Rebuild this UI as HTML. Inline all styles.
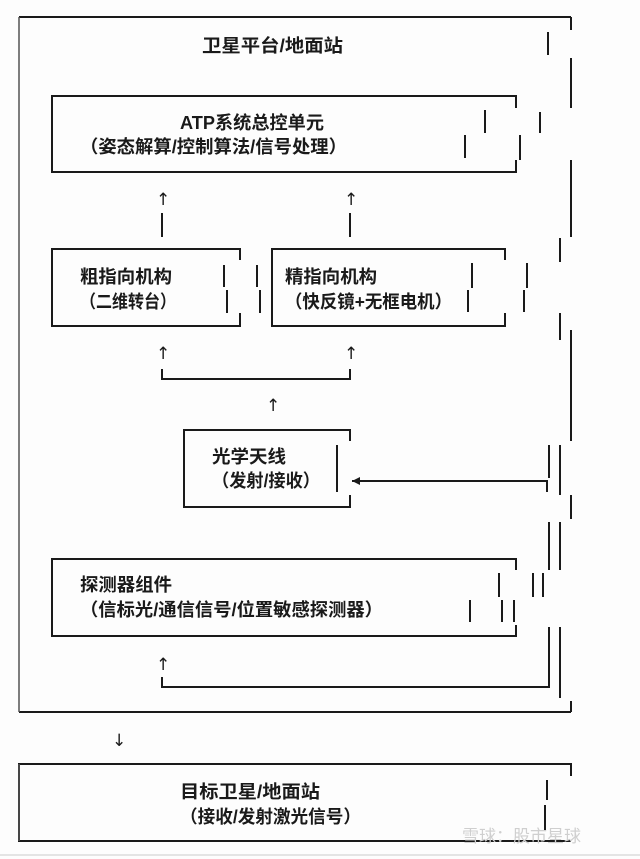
<!DOCTYPE html>
<html><head><meta charset="utf-8"><style>
html,body{margin:0;padding:0;background:#fdfdfd;}
svg{display:block}
text{font-family:"Liberation Sans","Noto Sans CJK SC",sans-serif;font-size:18px;fill:#1a1a1a;font-weight:bold;}
.ar{font-family:"DejaVu Sans",sans-serif;font-size:17px;font-weight:normal;}
</style></head><body>
<svg width="640" height="859" viewBox="0 0 640 859" xmlns="http://www.w3.org/2000/svg">
<g stroke="#1a1a1a" stroke-width="2" fill="none">
<path d="M19 17 H571 M19 712 H571"/>
<path d="M19 17V712" stroke="#555" stroke-width="1.5"/>
<path d="M571 17V30 M571 58V108 M571 160V237 M571 330V441 M571 495V519 M571 701V712"/>
<path d="M548 32V55"/>
<path d="M516 108V96H52V172H516V160"/>
<path d="M520 135V160 M540 112V133 M485 110V133 M465 135V158"/>
<path d="M162 213V237 M350 213V237"/>
<path d="M240 260V249H52V326H240V313"/>
<path d="M224 265V287 M227 290V313 M257 265V287 M260 290V313"/>
<path d="M505 260V249H272V326H505V313"/>
<path d="M472 263V288 M468 290V312 M527 263V288 M524 290V312"/>
<path d="M560 238V262 M560 313V340 M560 445V495 M560 522V570 M560 627V698"/>
<path d="M162 369V379H350V369"/>
<path d="M350 441V430H184V507H350V495"/>
<path d="M337 445V492"/>
<path d="M547 492V481H352"/>
<path d="M549 445V478 M549 522V570 M549 627V687H162V677"/>
<path d="M516 570V559H52V636H516V625"/>
<path d="M533 573V597 M543 573V597 M499 573V597 M470 600V622 M502 600V622 M514 600V622"/>
<path d="M571 776V764H19V841H571"/>
<path d="M19 764V841" stroke="#555" stroke-width="1.5"/>
<path d="M547 780V800 M545 805V830"/>
</g>
<path d="M352 481 L360 477 L360 485 Z" fill="#1a1a1a"/>
<line x1="0" y1="855" x2="640" y2="855" stroke="#ccc" stroke-width="1"/>
<g>
<text x="202" y="52" textLength="141" lengthAdjust="spacingAndGlyphs">卫星平台/地面站</text>
<text x="180" y="129" textLength="144" lengthAdjust="spacingAndGlyphs">ATP系统总控单元</text>
<text x="80" y="153" textLength="267" lengthAdjust="spacingAndGlyphs">（姿态解算/控制算法/信号处理）</text>
<text class="ar" x="156" y="205">↑</text>
<text class="ar" x="344" y="205">↑</text>
<text x="80" y="283" textLength="92" lengthAdjust="spacingAndGlyphs">粗指向机构</text>
<text x="80" y="308" textLength="96" lengthAdjust="spacingAndGlyphs">（二维转台）</text>
<text x="285" y="283" textLength="92" lengthAdjust="spacingAndGlyphs">精指向机构</text>
<text x="285" y="308" textLength="167" lengthAdjust="spacingAndGlyphs">（快反镜+无框电机）</text>
<text class="ar" x="156" y="359">↑</text>
<text class="ar" x="344" y="359">↑</text>
<text class="ar" x="266" y="411">↑</text>
<text x="212" y="463" textLength="74" lengthAdjust="spacingAndGlyphs">光学天线</text>
<text x="212" y="487" textLength="108" lengthAdjust="spacingAndGlyphs">（发射/接收）</text>
<text x="80" y="591" textLength="92" lengthAdjust="spacingAndGlyphs">探测器组件</text>
<text x="80" y="616" textLength="303" lengthAdjust="spacingAndGlyphs">（信标光/通信信号/位置敏感探测器）</text>
<text class="ar" x="156" y="670">↑</text>
<text class="ar" x="112" y="746">↓</text>
<text x="180" y="798" textLength="140" lengthAdjust="spacingAndGlyphs">目标卫星/地面站</text>
<text x="180" y="823" textLength="181" lengthAdjust="spacingAndGlyphs">（接收/发射激光信号）</text>
<text x="462" y="842" style="fill:#cfcfcf;font-size:17px;font-weight:normal">雪球：股市星球</text>
</g>
</svg>
</body></html>
